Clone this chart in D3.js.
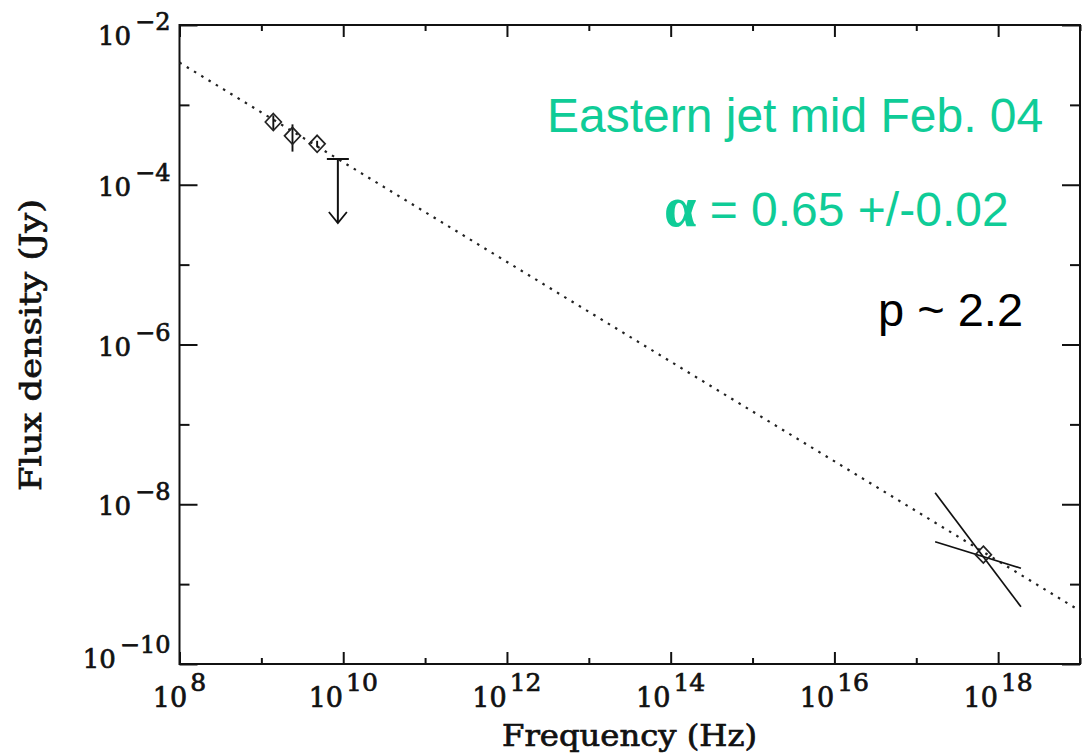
<!DOCTYPE html>
<html>
<head>
<meta charset="utf-8">
<script src="https://cdn.jsdelivr.net/npm/d3@7"></script>
<style>
  html, body { margin: 0; padding: 0; background: #fff; }
  svg { display: block; }
</style>
</head>
<body>
<div id="chart"></div>
<script>
// Radio points (ATCA), Hz / Jy
const radioFreq = [1.4e9, 2.4e9, 4.8e9];
const radioFlux = [6.1e-4, 4.1e-4, 3.25e-4];
const radioLow  = [4.9e-4, 2.6e-4, 2.95e-4];
const radioHigh = [7.4e-4, 5.7e-4, 3.55e-4];

// 8.6 GHz upper limit
const limitFreq = [8.6e9];
const limitFlux = [2.1e-4];

// X-ray point and bow-tie
const xrayFreq = [6.6e17];
const xrayFlux = [2.34e-9];
const bowFreq = [1.7e17, 1.9e18];
const bowSteep = [1.39e-8, 5.2e-10];
const bowShallow = [3.39e-9, 1.58e-9];

// power-law fit (alpha = 0.65)
const fitFreq = [1e8, 1e19];
const fitFlux = [3.39e-3, 4.63e-10];

const xDecades = d3.range(8, 20);    // 10^8 .. 10^19
const yDecades = d3.range(-10, -1);  // 10^-10 .. 10^-2

const W = 1085, H = 756;
const box = { left: 179.5, right: 1080, top: 25, bottom: 664 };
const teal = '#0fcc97';
const ink = '#111';

const svg = d3.select('#chart').append('svg')
  .attr('width', W).attr('height', H);

const x = d3.scaleLog().domain([1e8, 1e19]).range([box.left, box.right]);
const y = d3.scaleLog().domain([1e-10, 1e-2]).range([box.bottom, box.top]);

// ticks: major on even decades, minor on odd ones
const xMajor = xDecades.filter(d => d % 2 === 0).map(d => Math.pow(10, d));
const xMinor = xDecades.filter(d => d % 2 !== 0).map(d => Math.pow(10, d));
const yMajor = yDecades.filter(d => d % 2 === 0).map(d => Math.pow(10, d));
const yMinor = yDecades.filter(d => d % 2 !== 0).map(d => Math.pow(10, d));

function tickAxis(axis, values, size, transform) {
  const g = svg.append('g')
    .attr('transform', transform)
    .call(axis.tickValues(values).tickSize(-size).tickFormat(''));
  g.select('.domain').remove();
  g.selectAll('.tick line').attr('stroke', ink).attr('stroke-width', 2);
}
tickAxis(d3.axisBottom(x), xMajor, 12, `translate(0,${box.bottom})`);
tickAxis(d3.axisBottom(x), xMinor, 6, `translate(0,${box.bottom})`);
tickAxis(d3.axisTop(x), xMajor, 12, `translate(0,${box.top})`);
tickAxis(d3.axisTop(x), xMinor, 6, `translate(0,${box.top})`);
tickAxis(d3.axisLeft(y), yMajor, 18, `translate(${box.left},0)`);
tickAxis(d3.axisLeft(y), yMinor, 10, `translate(${box.left},0)`);
tickAxis(d3.axisRight(y), yMajor, 18, `translate(${box.right},0)`);
tickAxis(d3.axisRight(y), yMinor, 10, `translate(${box.right},0)`);

// frame
svg.append('rect')
  .attr('x', box.left).attr('y', box.top)
  .attr('width', box.right - box.left).attr('height', box.bottom - box.top)
  .attr('fill', 'none').attr('stroke', ink).attr('stroke-width', 2);

const serif = '"DejaVu Serif", "Liberation Serif", serif';
const greek = '"Liberation Serif", "Times New Roman", serif';
const sans = '"Liberation Sans", Arial, Helvetica, sans-serif';

// heavier strokes to look like the plotted bitmap font
const axisText = sel => sel
  .attr('font-family', serif)
  .attr('fill', ink)
  .attr('stroke', ink)
  .attr('stroke-width', 0.7);

// x tick labels
xDecades.filter(d => d % 2 === 0 && d < 19).forEach(d => {
  const t = svg.append('text')
    .attr('x', x(Math.pow(10, d)))
    .attr('y', box.bottom + 43)
    .attr('text-anchor', 'middle')
    .attr('font-size', 27)
    .call(axisText);
  t.append('tspan').text('10');
  t.append('tspan').attr('dx', 3).attr('dy', -16).attr('font-size', 25).text(d);
});

// y tick labels
yDecades.filter(d => d % 2 === 0).forEach(d => {
  const base = Math.min(Math.max(y(Math.pow(10, d)) + 11, 45), 668);
  const t = svg.append('text')
    .attr('x', box.left - 9)
    .attr('y', base)
    .attr('text-anchor', 'end')
    .attr('font-size', 26)
    .call(axisText);
  t.append('tspan').text('10');
  t.append('tspan').attr('dx', 4).attr('dy', -15).attr('font-size', 24).text('\u2212' + Math.abs(d));
});

// axis titles
svg.append('text')
  .attr('x', 502).attr('y', 746)
  .attr('font-size', 29)
  .attr('textLength', 255)
  .attr('lengthAdjust', 'spacingAndGlyphs')
  .call(axisText)
  .text('Frequency (Hz)');

svg.append('text')
  .attr('transform', `translate(41,491) rotate(-90)`)
  .attr('font-size', 29)
  .attr('textLength', 292)
  .attr('lengthAdjust', 'spacingAndGlyphs')
  .call(axisText)
  .text('Flux density (Jy)');

const plot = svg.append('g');

// dotted power-law fit
plot.append('path')
  .datum(fitFreq.map((f, i) => [f, fitFlux[i]]))
  .attr('fill', 'none')
  .attr('stroke', '#222')
  .attr('stroke-width', 2.2)
  .attr('stroke-dasharray', '2.5,6')
  .attr('d', d3.line().x(d => x(d[0])).y(d => y(d[1])));

// bow-tie
[bowSteep, bowShallow].forEach(s => {
  plot.append('path')
    .datum(bowFreq.map((f, i) => [f, s[i]]))
    .attr('fill', 'none')
    .attr('stroke', ink)
    .attr('stroke-width', 1.7)
    .attr('d', d3.line().x(d => x(d[0])).y(d => y(d[1])));
});

// error bars
plot.selectAll('.err')
  .data(radioFreq)
  .join('line')
  .attr('x1', d => x(d)).attr('x2', d => x(d))
  .attr('y1', (d, i) => y(radioLow[i]))
  .attr('y2', (d, i) => y(radioHigh[i]))
  .attr('stroke', ink).attr('stroke-width', 1.9);

// diamonds
const diamond = (cx, cy) => `M${cx},${cy - 8.5}L${cx + 8},${cy}L${cx},${cy + 8.5}L${cx - 8},${cy}Z`;
const pts = radioFreq.map((f, i) => [f, radioFlux[i]])
  .concat(xrayFreq.map((f, i) => [f, xrayFlux[i]]));
plot.selectAll('.pt')
  .data(pts)
  .join('path')
  .attr('d', d => diamond(x(d[0]), y(d[1])))
  .attr('fill', 'none')
  .attr('stroke', '#222')
  .attr('stroke-width', 1.7);

// upper limit with arrow
const arrowLen = 64;
limitFreq.forEach((f, i) => {
  const cx = x(f), cy = y(limitFlux[i]);
  plot.append('line')
    .attr('x1', cx - 11).attr('x2', cx + 11)
    .attr('y1', cy).attr('y2', cy)
    .attr('stroke', ink).attr('stroke-width', 2);
  plot.append('line')
    .attr('x1', cx).attr('x2', cx)
    .attr('y1', cy).attr('y2', cy + arrowLen)
    .attr('stroke', ink).attr('stroke-width', 2);
  plot.append('path')
    .attr('d', `M${cx - 9},${cy + arrowLen - 11}L${cx},${cy + arrowLen}L${cx + 9},${cy + arrowLen - 11}`)
    .attr('fill', 'none')
    .attr('stroke', ink).attr('stroke-width', 1.8);
});

// annotations
svg.append('text')
  .attr('x', 547).attr('y', 132)
  .attr('font-family', sans).attr('font-size', 48)
  .attr('fill', teal)
  .text('Eastern jet mid Feb. 04');

const alpha = svg.append('text')
  .attr('x', 664).attr('y', 226)
  .attr('font-family', sans).attr('font-size', 48)
  .attr('fill', teal);
alpha.append('tspan')
  .attr('font-family', greek).attr('font-weight', 'bold').attr('font-size', 58)
  .text('\u03b1');
alpha.append('tspan').text(' = 0.65 +/-0.02');

svg.append('text')
  .attr('x', 878).attr('y', 326)
  .attr('font-family', sans).attr('font-size', 47)
  .attr('fill', '#000')
  .text('p ~ 2.2');
</script>
</body>
</html>
